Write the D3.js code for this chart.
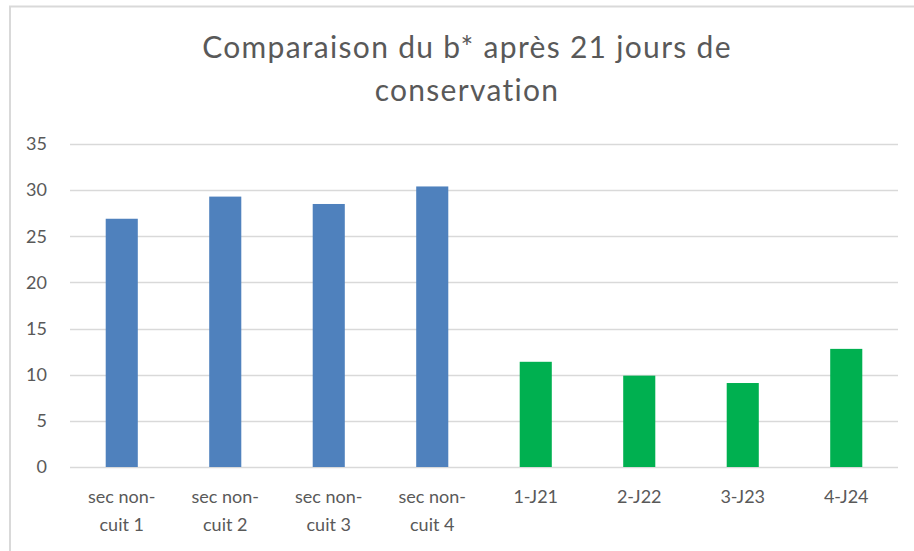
<!DOCTYPE html>
<html>
<head>
<meta charset="utf-8">
<script src="https://cdn.jsdelivr.net/npm/d3@7"></script>
<style>
  body { margin: 0; background: #fff; }
  text { font-family: Lato, "Open Sans", sans-serif; fill: #595959; }
</style>
</head>
<body>
<svg id="chart"></svg>
<script>
var width = 914;
var height = 551;

var categories = [
    ['sec non-', 'cuit 1'],
    ['sec non-', 'cuit 2'],
    ['sec non-', 'cuit 3'],
    ['sec non-', 'cuit 4'],
    ['1-J21'],
    ['2-J22'],
    ['3-J23'],
    ['4-J24']
];
var values = [26.9, 29.3, 28.5, 30.4, 11.4, 9.9, 9.1, 12.8];
var barColors = ['#4f81bd', '#4f81bd', '#4f81bd', '#4f81bd', '#00b050', '#00b050', '#00b050', '#00b050'];
var yTicks = [0, 5, 10, 15, 20, 25, 30, 35];
var titleLines = ['Comparaison du b* après 21 jours de', 'conservation'];

var margin = {left: 70, right: 16, top: 144, bottom: 84};

var svg = d3.select('#chart')
    .attr('width', width)
    .attr('height', height);

// chart border (only top and left visible in the crop)
svg.append('path')
    .attr('d', 'M10,' + height + 'V6.5H' + width)
    .attr('fill', 'none')
    .attr('stroke', '#d9d9d9')
    .attr('stroke-width', 2);

var x = d3.scaleBand()
    .domain(d3.range(categories.length))
    .range([margin.left, width - margin.right])
    .paddingInner(0.69)
    .paddingOuter(0.345);

var y = d3.scaleLinear()
    .domain([0, 35])
    .range([height - margin.bottom, margin.top]);

// gridlines
svg.append('g').selectAll('line')
    .data(yTicks)
    .enter().append('line')
    .attr('x1', margin.left)
    .attr('x2', width - margin.right)
    .attr('y1', function (d) { return Math.round(y(d)) + 0.5; })
    .attr('y2', function (d) { return Math.round(y(d)) + 0.5; })
    .attr('stroke', '#d9d9d9')
    .attr('stroke-width', 1.3);

// y labels
svg.append('g').selectAll('text')
    .data(yTicks)
    .enter().append('text')
    .attr('x', 47)
    .attr('y', function (d) { return y(d); })
    .attr('dy', '0.35em')
    .attr('text-anchor', 'end')
    .style('font-size', '18px')
    .text(function (d) { return d; });

// bars
svg.append('g').selectAll('rect')
    .data(values)
    .enter().append('rect')
    .attr('x', function (d, i) { return x(i); })
    .attr('width', x.bandwidth())
    .attr('y', function (d) { return y(d); })
    .attr('height', function (d) { return y(0) - y(d); })
    .attr('fill', function (d, i) { return barColors[i]; });

// category labels
var cat = svg.append('g').selectAll('text')
    .data(categories)
    .enter().append('text')
    .attr('x', function (d, i) { return x(i) + x.bandwidth() / 2; })
    .attr('y', 503)
    .attr('text-anchor', 'middle')
    .style('font-size', '18px');

cat.selectAll('tspan')
    .data(function (d) { return d; })
    .enter().append('tspan')
    .attr('x', function () { return d3.select(this.parentNode).attr('x'); })
    .attr('dy', function (d, i) { return i === 0 ? 0 : 28; })
    .text(function (d) { return d; });

// title
svg.append('g').selectAll('text')
    .data(titleLines)
    .enter().append('text')
    .attr('x', 467)
    .attr('y', function (d, i) { return 58 + i * 43; })
    .attr('text-anchor', 'middle')
    .style('font-size', '30px')
    .style('letter-spacing', '1.3px')
    .text(function (d) { return d; });
</script>
</body>
</html>
